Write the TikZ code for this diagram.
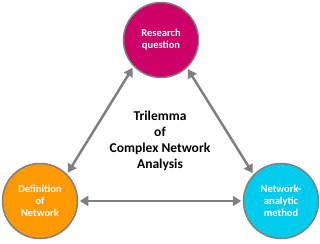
\documentclass[tikz,border=0pt]{standalone}
\usepackage{fontspec}
\setmainfont{Carlito}
\usetikzlibrary{arrows.meta}

\definecolor{rqmagenta}{RGB}{204,0,102}
\definecolor{deforange}{RGB}{255,153,0}
\definecolor{methcyan}{RGB}{0,204,238}
\definecolor{bordgray}{RGB}{128,128,128}

\begin{document}
\begin{tikzpicture}[
        x=1pt, y=-1pt,
        % Styles communs
        every node/.style = {font=\bfseries},
        % Style des cercles
        corner/.style = {
            circle,
            draw=bordgray,
            line width=1.5pt,
            minimum size=75pt,
            inner sep=0pt,
            text=white,
            align=center,
            font=\fontsize{10.5}{12}\selectfont\bfseries
        },
        % Style des flèches
        arrow/.style = {
            {Triangle[length=8.5pt,width=10pt]}-{Triangle[length=8.5pt,width=10pt]},
            line width=2.5pt,
            draw=bordgray,
            shorten <=1.5pt,
            shorten >=1.5pt
        }
    ]
        \useasboundingbox (0,0) rectangle (320,243);

        % 1. Placement des cercles
        \node (question) [corner, fill=rqmagenta] at (161,40)  {Research\\question};
        \node (definition) [corner, fill=deforange] at (40,201) {Definition\\of\\Network};
        \node (method) [corner, fill=methcyan] at (281,201) {Network-\\analytic\\method};

        % 2. Texte central
        \node (title) [align=center, font=\fontsize{13.5}{16}\selectfont\bfseries] at (160,141)
            {Trilemma\\of\\Complex Network\\Analysis};

        % 3. Flèches
        \draw [arrow] (definition.45) -- (question.224);
        \draw [arrow] (question.313) -- (method.136);
        \draw [arrow] (definition.0) -- (method.180);

\end{tikzpicture}
\end{document}
